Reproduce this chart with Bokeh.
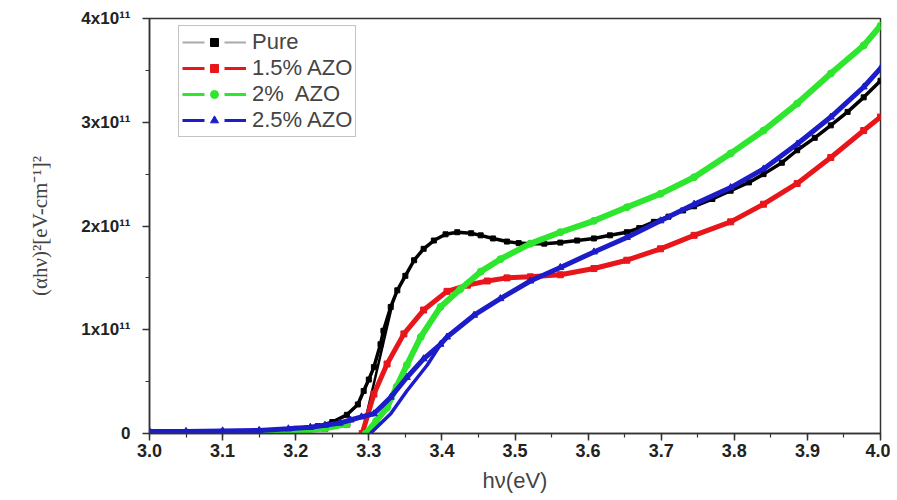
import math
from bokeh.plotting import figure
from bokeh.models import Range1d, FixedTicker, Legend, LegendItem, NumeralTickFormatter
from bokeh.embed import file_html
from bokeh.resources import INLINE

NaN = float("nan")

# Photon energy hv (eV) and (alpha*h*v)^2 in units of 1e11 (eV/cm)^2
pure_e = [3.00, 3.05, 3.10, 3.15, 3.20, 3.23, 3.25, 3.27, 3.285, 3.293, 3.300, 3.307, 3.316, 3.320, 3.330,
          3.339, 3.350, 3.362, 3.375, 3.389, 3.405, 3.421, 3.440, 3.453, 3.470, 3.489, 3.505, 3.521, 3.540,
          3.562, 3.585, 3.608, 3.630, 3.653, 3.670, 3.690, 3.710, 3.730, 3.745, 3.770, 3.795, 3.820, 3.840,
          3.865, 3.886, 3.910, 3.932, 3.955, 3.977, 4.000]
pure_v = [0.01, 0.01, 0.015, 0.025, 0.045, 0.07, 0.11, 0.18, 0.28, 0.41, 0.52, 0.64, 0.86, 0.99, 1.22,
          1.38, 1.52, 1.67, 1.78, 1.86, 1.92, 1.94, 1.93, 1.91, 1.88, 1.85, 1.835, 1.83, 1.83,
          1.84, 1.86, 1.88, 1.91, 1.94, 1.98, 2.04, 2.09, 2.15, 2.19, 2.26, 2.34, 2.42, 2.50,
          2.61, 2.73, 2.85, 2.97, 3.10, 3.24, 3.40]
pure_onset_e = [3.291, 3.334]
pure_onset_v = [0.0, 1.30]

azo15_e = [3.00, 3.05, 3.10, 3.15, 3.20, 3.24, 3.27, NaN, 3.291, 3.307, 3.325, 3.348, 3.375, 3.407,
           3.435, 3.462, 3.489, 3.521, 3.562, 3.608, 3.653, 3.699, 3.745, 3.795, 3.840, 3.886, 3.932,
           3.977, 4.000]
azo15_v = [0.01, 0.01, 0.01, 0.015, 0.02, 0.05, 0.09, NaN, 0.0, 0.38, 0.67, 0.96, 1.19, 1.37,
           1.43, 1.47, 1.50, 1.51, 1.53, 1.59, 1.67, 1.78, 1.91, 2.04, 2.21, 2.41, 2.66,
           2.92, 3.05]

azo2_e = [3.00, 3.05, 3.10, 3.15, 3.20, 3.24, 3.27, NaN, 3.296, 3.310, 3.325, 3.338, 3.352, 3.371,
          3.398, 3.425, 3.453, 3.480, 3.521, 3.562, 3.608, 3.653, 3.699, 3.745, 3.795, 3.840, 3.886,
          3.932, 3.977, 4.000]
azo2_v = [0.01, 0.01, 0.01, 0.015, 0.02, 0.05, 0.09, NaN, 0.0, 0.12, 0.25, 0.45, 0.66, 0.93,
          1.22, 1.39, 1.56, 1.68, 1.83, 1.94, 2.05, 2.18, 2.31, 2.47, 2.70, 2.92, 3.18,
          3.47, 3.74, 3.93]

azo25_e = [3.00, 3.05, 3.10, 3.15, 3.19, 3.22, 3.24, 3.26, 3.275, 3.29, 3.307, 3.330, 3.352, 3.375,
           3.398, 3.407, 3.444, 3.480, 3.521, 3.562, 3.608, 3.653, 3.699, 3.745, 3.795, 3.840, 3.886,
           3.932, 3.977, 4.000]
azo25_v = [0.02, 0.02, 0.025, 0.03, 0.045, 0.06, 0.08, 0.10, 0.13, 0.16, 0.19, 0.35, 0.54, 0.72,
           0.86, 0.93, 1.14, 1.30, 1.47, 1.60, 1.75, 1.89, 2.05, 2.21, 2.37, 2.55, 2.79,
           3.05, 3.34, 3.52]
azo25_onset_e = [3.302, 3.330, 3.352, 3.380, 3.400]
azo25_onset_v = [0.0, 0.19, 0.41, 0.66, 0.88]

labels = ["Pure", "1.5% AZO", "2%  AZO", "2.5% AZO"]
x_ticks = [3.0, 3.1, 3.2, 3.3, 3.4, 3.5, 3.6, 3.7, 3.8, 3.9, 4.0]
y_ticks = [0, 1, 2, 3, 4]
y_tick_labels = ["0", "1x10\u00b9\u00b9", "2x10\u00b9\u00b9", "3x10\u00b9\u00b9", "4x10\u00b9\u00b9"]

BLACK = "#000000"
RED = "#e8161b"
GREEN = "#2ee62e"
BLUE = "#1c1cc8"

p = figure(width=890, height=497, output_backend="svg", toolbar_location=None,
           x_range=Range1d(3.0, 4.0), y_range=Range1d(0, 4.0),
           min_border_left=149, min_border_right=10, min_border_top=18, min_border_bottom=64)
p.background_fill_color = "white"
p.border_fill_color = "white"
p.outline_line_color = "#333333"
p.outline_line_width = 1.5
p.xgrid.visible = False
p.ygrid.visible = False

# curves
p.line(pure_e, pure_v, color=BLACK, line_width=3.5)
p.scatter(pure_e, pure_v, marker="square", size=5, color=BLACK)
p.line(pure_onset_e, pure_onset_v, color=BLACK, line_width=2.5)

p.line(azo15_e, azo15_v, color=RED, line_width=5)
p.scatter(azo15_e, azo15_v, marker="square", size=6, color=RED)

p.line(azo2_e, azo2_v, color=GREEN, line_width=6)
p.scatter(azo2_e, azo2_v, marker="circle", size=7, color=GREEN)

p.line(azo25_e, azo25_v, color=BLUE, line_width=5)
p.scatter(azo25_e, azo25_v, marker="triangle", size=7, color=BLUE)
p.line(azo25_onset_e, azo25_onset_v, color=BLUE, line_width=3.5)

# axes
p.xaxis.ticker = FixedTicker(ticks=x_ticks, minor_ticks=[3.0 + 0.05 * i for i in range(21)])
p.xaxis.formatter = NumeralTickFormatter(format="0.0")
p.yaxis.ticker = FixedTicker(ticks=y_ticks, minor_ticks=[0.5, 1.5, 2.5, 3.5])
p.yaxis.major_label_overrides = {t: s for t, s in zip(y_ticks, y_tick_labels)}

for ax in (p.xaxis[0], p.yaxis[0]):
    ax.axis_line_color = "#333333"
    ax.axis_line_width = 1.5
    ax.major_tick_line_color = "#333333"
    ax.minor_tick_line_color = "#333333"
    ax.major_tick_line_width = 1.5
    ax.minor_tick_line_width = 1.2
    ax.major_tick_in = 0
    ax.major_tick_out = 7
    ax.minor_tick_in = 0
    ax.minor_tick_out = 4
    ax.major_label_text_font = "Liberation Sans"
    ax.major_label_text_font_style = "bold"
    ax.major_label_text_color = "#222222"

p.xaxis.major_label_text_font_size = "18px"
p.yaxis.major_label_text_font_size = "17px"
p.xaxis.major_label_standoff = 3
p.yaxis.major_label_standoff = 12

p.xaxis.axis_label = "h\u03bd(eV)"
p.xaxis.axis_label_text_font = "Liberation Sans"
p.xaxis.axis_label_text_font_style = "normal"
p.xaxis.axis_label_text_font_size = "22px"
p.xaxis.axis_label_standoff = 8

p.yaxis.axis_label = "(\u03b1h\u03bd)\u00b2[eV-cm\u207b\u00b9]\u00b2"
p.yaxis.axis_label_text_font = "Liberation Serif"
p.yaxis.axis_label_text_font_style = "normal"
p.yaxis.axis_label_text_font_size = "21px"
p.yaxis.axis_label_standoff = 26

# legend (dash - symbol - dash samples); samples sit outside the visible range
leg_specs = [("#aaaaaa", BLACK, "square", 0.0, 2),
             (RED, RED, "square", 0.0, 3),
             (GREEN, GREEN, "circle", 0.0, 3),
             (BLUE, BLUE, "triangle", -math.pi / 2, 3)]
items = []
for (lc, mc, mk, ang, lw), lab in zip(leg_specs, labels):
    lr = p.line([-10, -9], [-10, -10], color=lc, line_width=lw, line_dash="22 20")
    sr = p.scatter([-10], [-10], marker=mk, size=7, color=mc, angle=ang)
    items.append(LegendItem(label=lab, renderers=[lr, sr]))

legend = Legend(items=items, location=(29, 296))
legend.border_line_color = "#888888"
legend.border_line_width = 1
legend.background_fill_color = "white"
legend.label_text_font = "Liberation Sans"
legend.label_text_font_size = "22px"
legend.glyph_width = 64
legend.glyph_height = 20
legend.label_height = 20
legend.label_standoff = 6
legend.spacing = 0
legend.padding = 3
legend.margin = 0
p.add_layout(legend, "center")

open("out.html", "w").write(file_html(p, INLINE))
